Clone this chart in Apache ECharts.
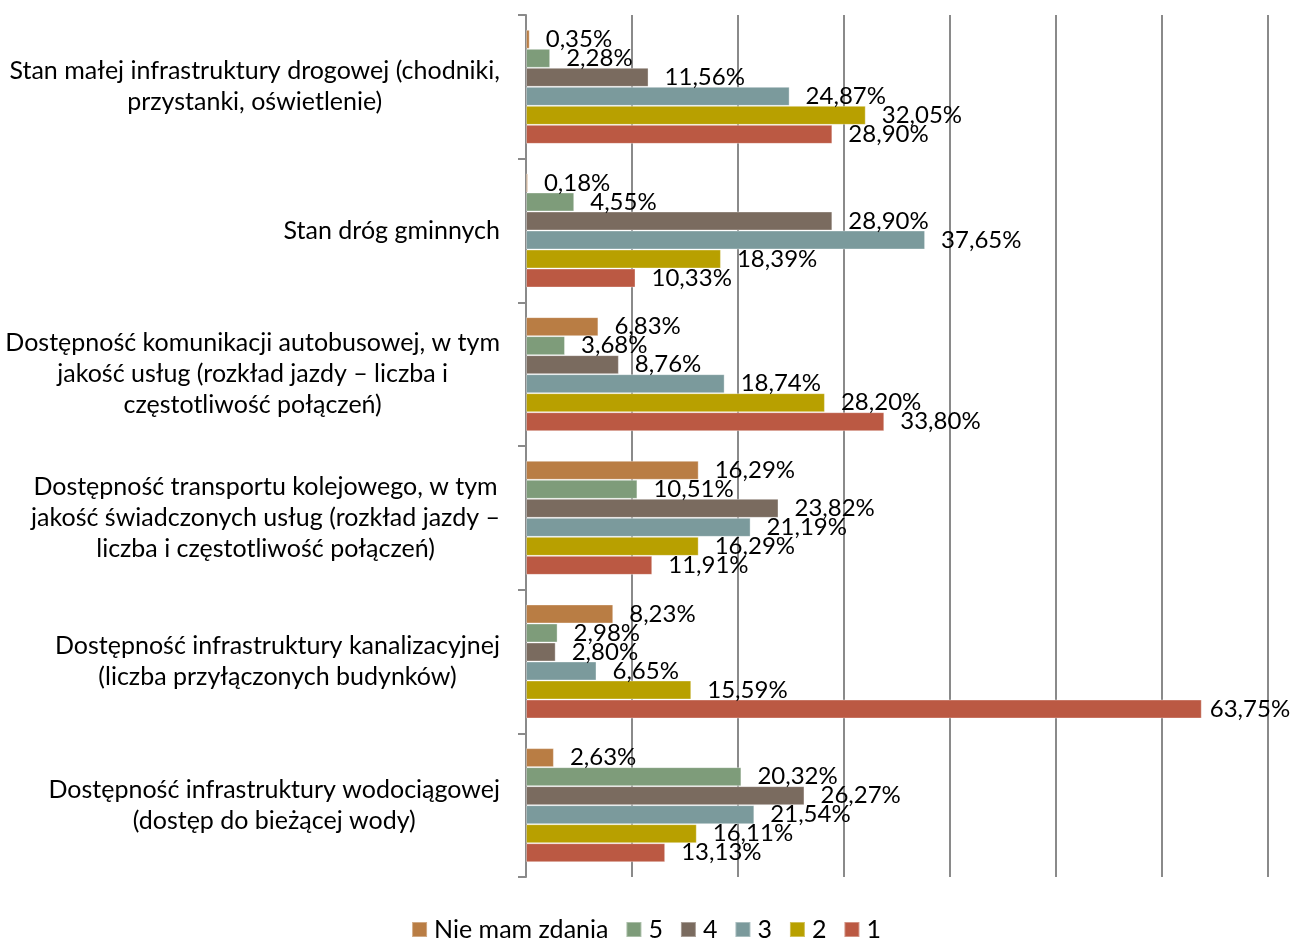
<!DOCTYPE html>
<html>
<head>
<meta charset="utf-8">
<style>
  html, body { margin: 0; padding: 0; background: #fff; }
  #chart { width: 1292px; height: 940px; }
</style>
<script src="https://cdn.jsdelivr.net/npm/echarts@6/dist/echarts.min.js"></script>
</head>
<body>
<div id="chart"></div>
<script>
// Categories (each line of a label is kept separately so it can be centred)
const categories = [
  ['Stan małej infrastruktury drogowej (chodniki,', 'przystanki, oświetlenie)'],
  ['Stan dróg gminnych'],
  ['Dostępność komunikacji autobusowej, w tym', 'jakość usług (rozkład jazdy – liczba i', 'częstotliwość połączeń)'],
  ['Dostępność transportu kolejowego, w tym', 'jakość świadczonych usług (rozkład jazdy –', 'liczba i częstotliwość połączeń)'],
  ['Dostępność infrastruktury kanalizacyjnej', '(liczba przyłączonych budynków)'],
  ['Dostępność infrastruktury wodociągowej', '(dostęp do bieżącej wody)']
];

const seriesNames = ['Nie mam zdania', '5', '4', '3', '2', '1'];

// Share of answers (%) per rating, in category order
const noOpinion = [0.35, 0.18, 6.83, 16.29, 8.23, 2.63];
const rating5 = [2.28, 4.55, 3.68, 10.51, 2.98, 20.32];
const rating4 = [11.56, 28.90, 8.76, 23.82, 2.80, 26.27];
const rating3 = [24.87, 37.65, 18.74, 21.19, 6.65, 21.54];
const rating2 = [32.05, 18.39, 28.20, 16.29, 15.59, 16.11];
const rating1 = [28.90, 10.33, 33.80, 11.91, 63.75, 13.13];

const seriesValues = [noOpinion, rating5, rating4, rating3, rating2, rating1];
const colors = ['#B97D44', '#7E9C7A', '#7A6B5F', '#7B9A9C', '#B8A000', '#BB5943'];

const FONT = 'Lato';

const chart = echarts.init(document.getElementById('chart'));

const fmt = v => v.toFixed(2).replace('.', ',') + '%';

const series = seriesNames.map((name, i) => ({
  name: name,
  type: 'bar',
  barGap: '0%',
  barCategoryGap: '20.6%',
  itemStyle: {
    color: colors[i],
    borderColor: 'rgba(255,255,255,0.35)',
    borderWidth: 1
  },
  label: {
    show: true,
    position: 'right',
    color: '#000',
    fontFamily: FONT,
    fontSize: 24,
    formatter: p => fmt(p.value)
  },
  data: seriesValues[i].map(v => ({
    value: v,
    // the longest bar's label sits closer so it stays inside the canvas
    label: { distance: v > 60 ? 8 : 16 }
  }))
}));

chart.setOption({
  animation: false,
  color: colors,
  grid: { left: 526, right: 24, top: 15, bottom: 63, containLabel: false },
  legend: {
    top: 912,
    left: 'center',
    icon: 'rect',
    itemWidth: 15,
    itemHeight: 15,
    itemGap: 17,
    textStyle: { fontFamily: FONT, fontSize: 25, color: '#000', padding: [0, 0, 0, 2] },
    data: seriesNames
  },
  xAxis: {
    type: 'value',
    min: 0,
    max: 70,
    interval: 10,
    axisLabel: { show: false },
    axisLine: { show: false },
    axisTick: { show: false },
    splitLine: { show: true, lineStyle: { color: '#8A8A8A', width: 2 } }
  },
  yAxis: {
    type: 'category',
    inverse: true,
    data: categories.map(lines => lines.join('\n')),
    axisLine: { show: true, lineStyle: { color: '#8A8A8A', width: 2 } },
    axisTick: { show: true, length: 8, lineStyle: { color: '#8A8A8A', width: 2 } },
    axisLabel: {
      margin: 26,
      formatter: (val, idx) => categories[idx].map(l => '{c|' + l + '}').join('\n'),
      rich: {
        c: {
          align: 'center',
          fontFamily: FONT,
          fontSize: 25,
          lineHeight: 31,
          color: '#000'
        }
      }
    }
  },
  series: series
});
</script>
</body>
</html>
